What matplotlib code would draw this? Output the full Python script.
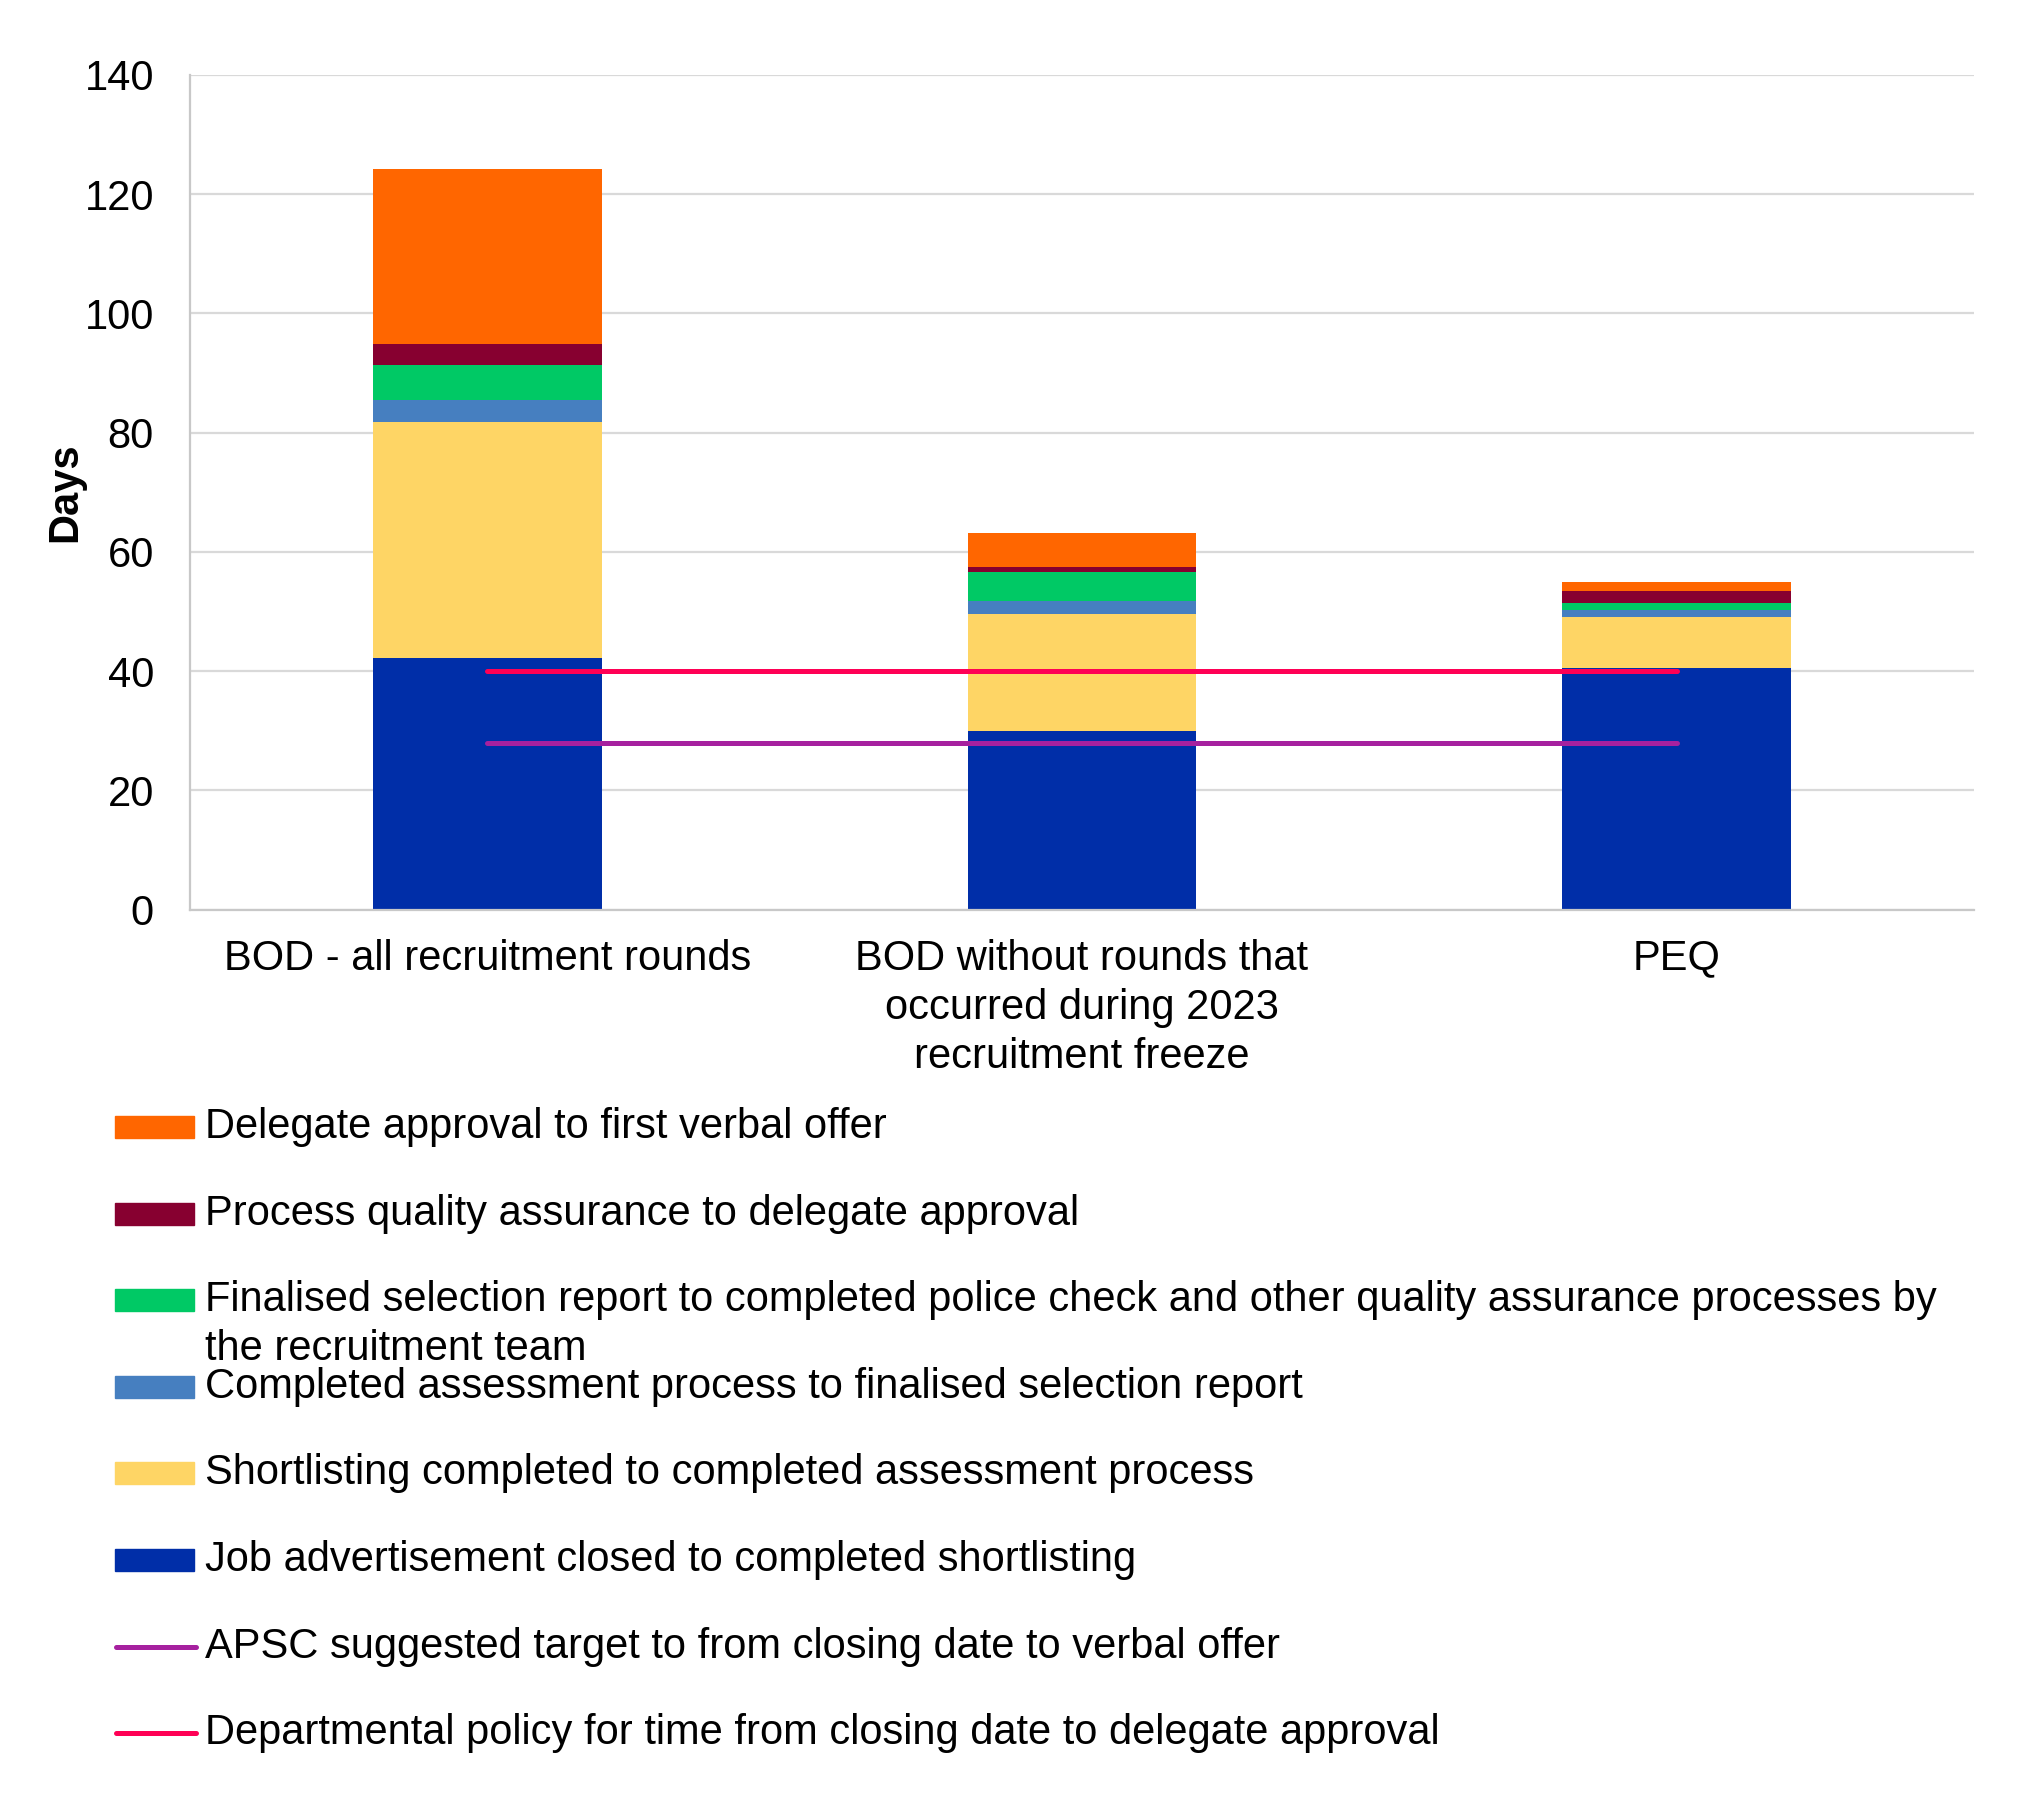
import matplotlib

matplotlib.use("Agg")
import matplotlib.pyplot as plt
from matplotlib.patches import Rectangle
from matplotlib.lines import Line2D
import numpy as np

plt.rcParams["font.family"] = ["Liberation Sans", "DejaVu Sans"]

# categorias del eje x
categories = [
    "BOD - all recruitment rounds",
    "BOD without rounds that\noccurred during 2023\nrecruitment freeze",
    "PEQ",
]

# series apiladas (dias), de abajo hacia arriba
job_ad = [42.2, 29.9, 40.5]
shortlisting = [39.5, 19.6, 8.5]
assessment = [3.8, 2.3, 1.3]
selection = [5.9, 4.9, 1.2]
quality = [3.5, 0.8, 1.9]
delegate = [29.3, 5.7, 1.5]

# lineas de referencia
apsc_target = [28, 28, 28]
dept_policy = [40, 40, 40]

bar_labels = [
    "Job advertisement closed to completed shortlisting",
    "Shortlisting completed to completed assessment process",
    "Completed assessment process to finalised selection report",
    "Finalised selection report to completed police check and other quality assurance processes by\nthe recruitment team",
    "Process quality assurance to delegate approval",
    "Delegate approval to first verbal offer",
]
bar_colors = ["#002EA8", "#FED565", "#467FC0", "#00C965", "#870030", "#FF6600"]
line_labels = [
    "APSC suggested target to from closing date to verbal offer",
    "Departmental policy for time from closing date to delegate approval",
]
line_colors = ["#A6219F", "#FF0055"]

FS = 30

fig = plt.figure(figsize=(20.22, 18.10), dpi=100)
ax = fig.add_axes([0.094, 0.4975, 0.8822, 0.4611])

x = np.arange(len(categories))
series = [job_ad, shortlisting, assessment, selection, quality, delegate]
bottom = np.zeros(len(categories))
for vals, col in zip(series, bar_colors):
    ax.bar(x, vals, width=0.385, bottom=bottom, color=col, zorder=2)
    bottom += np.array(vals)

for vals, col in zip([apsc_target, dept_policy], line_colors):
    ax.plot(x, vals, color=col, lw=3.6, solid_capstyle="round", zorder=3)

ax.set_xlim(-0.5, 2.5)
ax.set_ylim(0, 140)
ax.set_yticks(np.arange(0, 141, 20))
ax.set_xticks(x)
ax.set_xticklabels(categories, fontsize=FS, linespacing=1.3)
ax.tick_params(axis="y", length=0, pad=26, labelsize=FS)
ax.tick_params(axis="x", length=0, pad=21)
ax.grid(axis="y", color="#D9D9D9", lw=1.6, zorder=0)
for s in ["top", "right"]:
    ax.spines[s].set_visible(False)
for s in ["left", "bottom"]:
    ax.spines[s].set_color("#C8C8C8")
    ax.spines[s].set_linewidth(1.6)

fig.text(65 / 2022, 0.4975 + 0.4611 / 2, "Days", rotation=90,
         ha="center", va="center", fontsize=FS, fontweight="bold")

# leyenda manual (orden como en la referencia)
W, H = 2022.0, 1810.0
entries = [(bar_labels[i], bar_colors[i], "patch") for i in range(5, -1, -1)]
entries += [(line_labels[i], line_colors[i], "line") for i in range(2)]
y0, dy, lh = 1127.0, 86.6, 49.0
for k, (lab, col, kind) in enumerate(entries):
    yc = y0 + dy * k
    if kind == "patch":
        fig.add_artist(Rectangle((115 / W, 1 - (yc + 11) / H), 79 / W, 22 / H,
                                 transform=fig.transFigure, color=col))
    else:
        fig.add_artist(Line2D([116 / W, 196 / W], [1 - yc / H, 1 - yc / H],
                              transform=fig.transFigure, color=col, lw=3.6,
                              solid_capstyle="round"))
    for j, line in enumerate(lab.split("\n")):
        fig.text(205 / W, 1 - (yc + j * lh) / H, line, fontsize=FS,
                 ha="left", va="center")

fig.savefig("out.png", dpi=100)
